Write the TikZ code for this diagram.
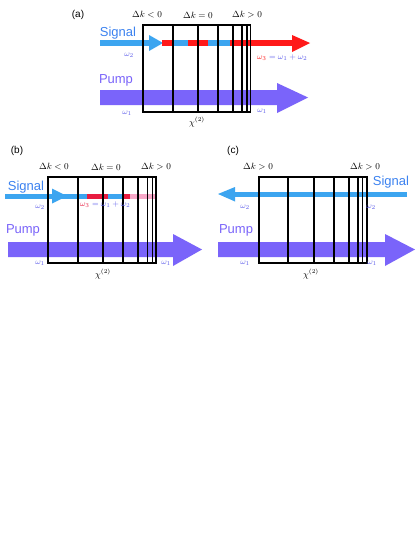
\documentclass[tikz,border=0pt]{standalone}
\usepackage{fontspec}
\setsansfont{Liberation Sans}
\definecolor{sigblue}{RGB}{60,165,240}
\definecolor{sigtext}{RGB}{60,130,240}
\definecolor{pumpc}{RGB}{122,100,250}
\definecolor{redc}{RGB}{255,25,25}
\definecolor{crim}{RGB}{232,28,64}
\definecolor{pinkc}{RGB}{248,168,200}
\definecolor{omc}{RGB}{95,95,235}
\tikzset{
  lbl/.style={font=\sffamily\fontsize{13}{13}\selectfont, inner sep=0},
  dk/.style={font=\fontsize{9}{9}\selectfont, inner sep=0},
  om/.style={text=omc, font=\fontsize{8.5}{8.5}\selectfont, inner sep=0},
  chi/.style={font=\fontsize{9}{9}\selectfont, inner sep=0},
  panel/.style={font=\sffamily\fontsize{10}{10}\selectfont, inner sep=0},
  crystal/.style={draw=black, line width=1.1pt}
}
\begin{document}
\begin{tikzpicture}[x=1pt,y=-1pt]
\useasboundingbox (0,0) rectangle (415,554);
\fill[white] (0,0) rectangle (415,554);

% ================= (a) =================
\node[panel] (pa) at (78,15) {(a)};
% pump
\fill[pumpc] (100,90) -- (277,90) -- (277,83) -- (308,97.5) -- (277,113) -- (277,105) -- (100,105) -- cycle;
% signal
\fill[sigblue] (100,40) rectangle (150,46);
\fill[sigblue] (149,35) -- (163,43) -- (149,51) -- cycle;
\fill[redc] (162,40) rectangle (173,46);
\fill[sigblue] (173,40) rectangle (188,46);
\fill[redc] (188,40) rectangle (208,46);
\fill[sigblue] (208,40) rectangle (230,46);
\fill[redc] (230,40) rectangle (293,46);
\fill[redc] (292,35) -- (310,43) -- (292,52) -- cycle;
% crystal
\draw[crystal] (143,25) rectangle (250.5,112);
\foreach \x in {173,198,218,233,242,247} \draw[crystal] (\x,25) -- (\x,112);
% labels
\node[dk] (a1) at (147,15) {$\Delta k<0$};
\node[dk] (a2) at (198,15) {$\Delta k=0$};
\node[dk] (a3) at (247,15) {$\Delta k>0$};
\node[lbl, text=sigtext] (asig) at (118,33) {Signal};
\node[lbl, text=pumpc] (apump) at (116,80) {Pump};
\node[om] (aw2) at (129,55) {$\omega_2$};
\node[om, anchor=west] (aw3) at (257,58) {$\textcolor{redc}{\omega_3} = \omega_1 + \omega_2$};
\node[om] (aw1a) at (127,113) {$\omega_1$};
\node[om] (aw1b) at (262,111) {$\omega_1$};
\node[chi] (achi) at (197,122) {$\chi^{(2)}$};

% ================= (b) =================
\node[panel] (pb) at (17,151) {(b)};
\fill[pumpc] (8,242) -- (173,242) -- (173,234) -- (202,249.5) -- (173,266) -- (173,257) -- (8,257) -- cycle;
\fill[sigblue] (5,193.5) rectangle (87,198.5);
\fill[sigblue] (52,188.5) -- (67,196) -- (52,203.5) -- cycle;
\fill[crim] (87,193.5) rectangle (108,198.5);
\fill[sigblue] (108,193.5) rectangle (124,198.5);
\fill[crim] (124,193.5) rectangle (130,198.5);
\fill[pinkc] (130,193.5) rectangle (155,198.5);
\draw[crystal] (48,177) rectangle (156,263);
\foreach \x in {78,103,123,138,147.7,152.5} \draw[crystal] (\x,177) -- (\x,263);
\node[dk] (b1) at (54,167) {$\Delta k<0$};
\node[dk] (b2) at (106,167) {$\Delta k=0$};
\node[dk] (b3) at (156,167) {$\Delta k>0$};
\node[lbl, text=sigtext] (bsig) at (26,187) {Signal};
\node[lbl, text=pumpc] (bpump) at (23,230) {Pump};
\node[om] (bw2) at (40,207) {$\omega_2$};
\node[om, anchor=west] (bw3) at (80,205) {$\textcolor{crim}{\omega_3} = \omega_1 + \omega_2$};
\node[om] (bw1a) at (40,263) {$\omega_1$};
\node[om] (bw1b) at (166,263) {$\omega_1$};
\node[chi] (bchi) at (103,274) {$\chi^{(2)}$};

% ================= (c) =================
\node[panel] (pc) at (233,151) {(c)};
\fill[pumpc] (218,242) -- (385,242) -- (385,234) -- (415,249.5) -- (385,266) -- (385,257) -- (218,257) -- cycle;
\fill[sigblue] (407,191.5) rectangle (233,196.5);
\fill[sigblue] (235,187) -- (218,194) -- (235,201.5) -- cycle;
\draw[crystal] (259,177) rectangle (367,263);
\foreach \x in {288,314,334,349,358,362.5} \draw[crystal] (\x,177) -- (\x,263);
\node[dk] (c1) at (258,167) {$\Delta k>0$};
\node[dk] (c2) at (365,167) {$\Delta k>0$};
\node[lbl, text=sigtext] (csig) at (391,182) {Signal};
\node[lbl, text=pumpc] (cpump) at (236,230) {Pump};
\node[om] (cw2a) at (245,207) {$\omega_2$};
\node[om] (cw2b) at (371,207) {$\omega_2$};
\node[om] (cw1a) at (245,263) {$\omega_1$};
\node[om] (cw1b) at (372,263) {$\omega_1$};
\node[chi] (cchi) at (311,274) {$\chi^{(2)}$};
\end{tikzpicture}
\end{document}
